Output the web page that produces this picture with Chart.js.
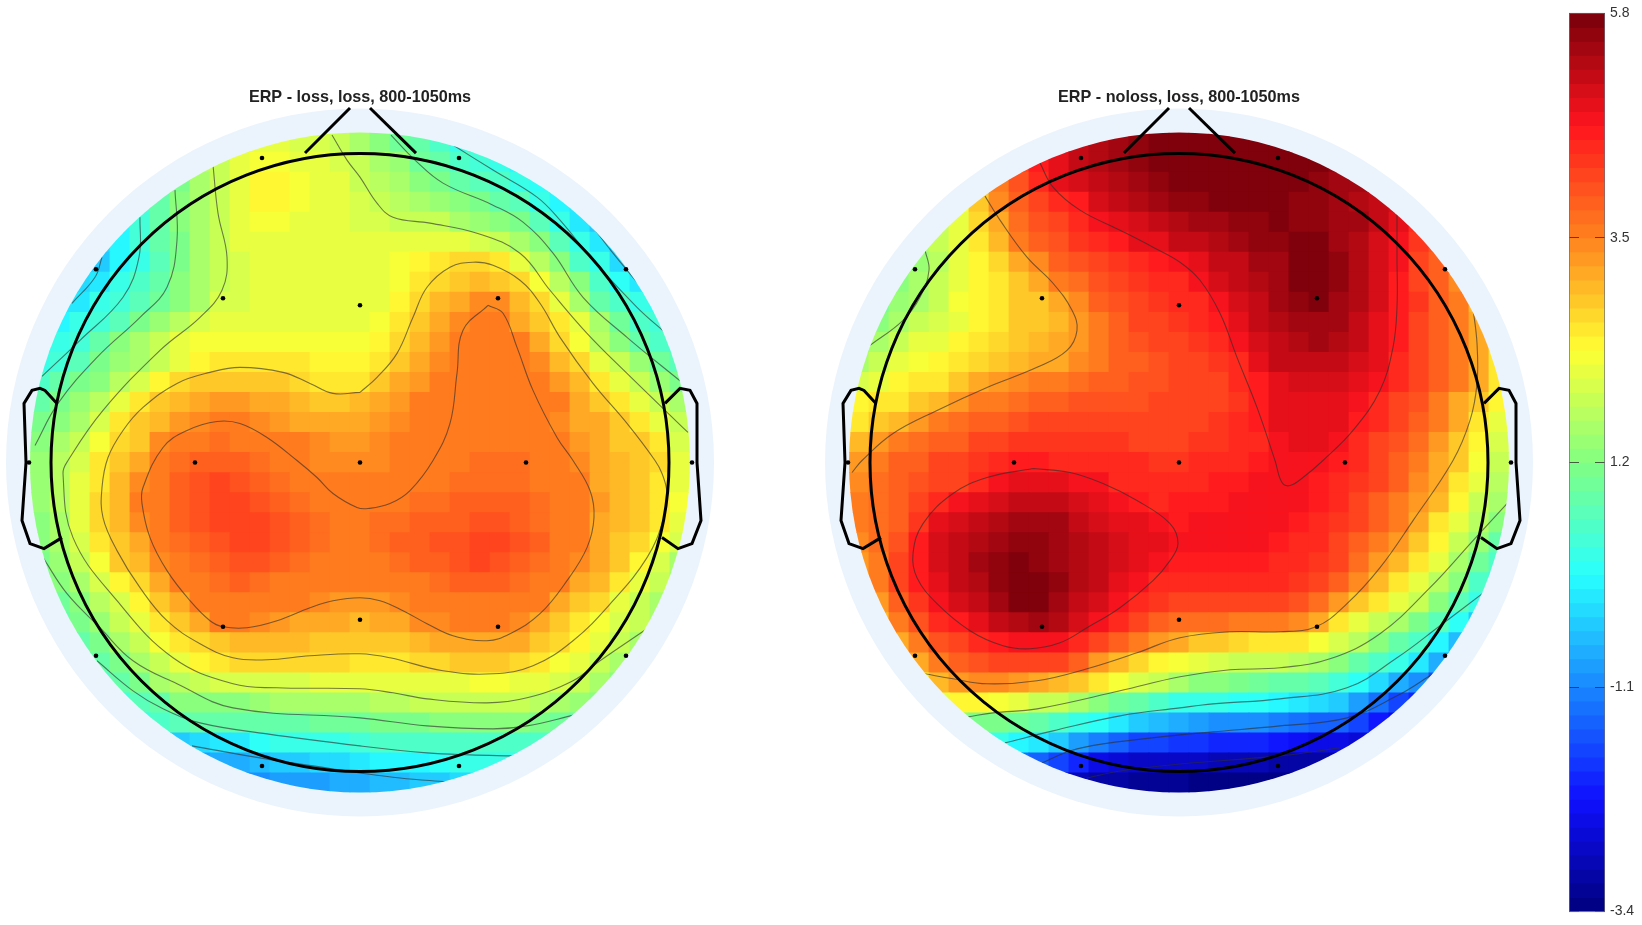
<!DOCTYPE html>
<html>
<head>
<meta charset="utf-8">
<title>ERP topographies</title>
<style>
  body { margin:0; background:#fff; }
  canvas { position:absolute; }
</style>
<script src="https://cdn.jsdelivr.net/npm/chart.js@4"></script>
</head>
<body>
<canvas id="lossChart" width="720" height="733" style="left:0;top:84px"></canvas>
<canvas id="nolossChart" width="720" height="733" style="left:819px;top:84px"></canvas>
<canvas id="barChart" width="73" height="925" style="left:1569px;top:0"></canvas>
<script>
// ================= DATA =================
// map values, front of the head first; each row is centred on the midline
const lossRows = [
[1.9,2.1,2.1,2.0,2.0,1.8,1.6,1.3,1.0,0.8,0.5,0.3,0.1],
[1.7,1.9,2.1,2.3,2.3,2.2,2.1,2.0,1.8,1.6,1.4,1.0,0.8,0.6,0.4,0.2,0.0],
[0.9,1.1,1.6,1.9,2.2,2.4,2.4,2.3,2.2,2.1,1.9,1.7,1.5,1.3,1.1,0.9,0.7,0.5,0.3,0.1,-0.1],
[0.5,0.9,1.2,1.6,1.9,2.2,2.4,2.4,2.3,2.2,2.1,2.0,1.9,1.7,1.5,1.4,1.2,1.1,0.9,0.7,0.3,0.0,-0.2],
[0.0,0.4,0.8,1.2,1.6,1.9,2.1,2.3,2.3,2.2,2.1,2.1,2.0,2.0,1.9,1.9,1.8,1.6,1.4,1.3,1.1,0.7,0.3,-0.2,-0.5],
[-0.3,0.0,0.4,0.8,1.1,1.5,1.9,2.1,2.2,2.2,2.1,2.1,2.1,2.1,2.1,2.1,2.1,2.1,2.1,2.0,1.8,1.6,1.2,0.7,0.3,-0.2,-0.4],
[-0.4,-0.4,0.0,0.3,0.7,1.1,1.5,1.8,2.0,2.2,2.2,2.2,2.1,2.1,2.1,2.2,2.3,2.4,2.5,2.7,2.7,2.5,2.1,1.7,1.2,0.6,0.2,-0.3,-0.4],
[-0.3,-0.2,0.2,0.5,0.9,1.2,1.5,1.8,2.0,2.1,2.2,2.1,2.1,2.1,2.1,2.2,2.3,2.5,2.7,2.9,3.0,2.9,2.7,2.3,1.7,1.3,0.6,0.1,-0.2],
[-0.1,-0.1,0.2,0.4,0.7,1.0,1.3,1.6,2.0,2.0,2.1,2.1,2.1,2.1,2.1,2.1,2.2,2.4,2.7,3.0,3.2,3.4,3.4,3.0,2.7,2.2,1.6,0.9,0.6,0.2,0.1],
[0.0,0.2,0.4,0.7,1.1,1.4,1.7,2.0,2.1,2.1,2.1,2.1,2.1,2.1,2.1,2.2,2.3,2.5,2.9,3.1,3.4,3.5,3.5,3.2,2.9,2.6,2.1,1.5,1.0,0.6,0.4],
[0.0,0.2,0.4,0.9,1.2,1.5,1.8,2.1,2.3,2.3,2.3,2.3,2.3,2.3,2.3,2.3,2.3,2.4,2.7,3.0,3.3,3.5,3.5,3.6,3.5,3.1,2.7,2.3,1.7,1.2,0.9,0.5,0.3],
[0.2,0.4,0.7,1.1,1.4,1.6,1.9,2.2,2.4,2.5,2.6,2.6,2.6,2.5,2.4,2.4,2.4,2.6,2.9,3.2,3.4,3.5,3.6,3.6,3.5,3.4,3.0,2.7,2.2,1.8,1.4,1.0,0.7],
[0.5,0.8,1.1,1.3,1.7,2.0,2.4,2.7,2.8,2.9,2.9,2.9,2.9,2.7,2.6,2.6,2.6,2.8,3.1,3.3,3.5,3.6,3.6,3.6,3.6,3.5,3.3,3.0,2.6,2.2,1.8,1.4,1.1],
[0.9,1.1,1.4,1.7,2.1,2.6,2.9,3.0,3.2,3.3,3.3,3.2,3.1,3.0,2.9,2.9,3.0,3.1,3.3,3.5,3.5,3.6,3.6,3.6,3.6,3.6,3.5,3.2,2.9,2.5,2.2,1.9,1.5],
[1.1,1.3,1.6,2.0,2.5,2.8,3.0,3.3,3.4,3.5,3.5,3.4,3.3,3.2,3.1,3.1,3.2,3.3,3.4,3.5,3.5,3.6,3.6,3.6,3.6,3.5,3.4,3.2,3.1,2.8,2.5,2.2,1.8],
[1.3,1.5,1.8,2.3,2.7,2.9,3.4,3.5,3.6,3.7,3.6,3.6,3.5,3.5,3.4,3.3,3.3,3.4,3.5,3.5,3.6,3.6,3.6,3.6,3.6,3.6,3.5,3.3,3.1,2.9,2.8,2.5,2.0],
[1.4,1.7,2.0,2.5,2.9,3.2,3.5,3.7,3.9,3.9,3.8,3.7,3.6,3.5,3.4,3.4,3.4,3.4,3.5,3.5,3.6,3.6,3.7,3.7,3.7,3.6,3.6,3.4,3.2,3.0,2.9,2.7,2.1],
[1.4,1.7,2.1,2.6,3.0,3.4,3.6,3.8,4.0,4.1,4.0,3.9,3.7,3.6,3.5,3.5,3.5,3.5,3.6,3.6,3.6,3.7,3.7,3.7,3.7,3.6,3.6,3.5,3.2,3.0,2.9,2.6,2.2],
[1.4,1.7,2.1,2.7,3.0,3.5,3.6,3.8,4.0,4.1,4.1,4.0,3.9,3.7,3.6,3.6,3.6,3.6,3.6,3.7,3.7,3.8,3.8,3.8,3.8,3.7,3.6,3.5,3.3,3.0,2.9,2.6,2.3],
[1.3,1.6,2.1,2.7,3.0,3.4,3.6,3.8,4.0,4.1,4.1,4.1,4.0,3.8,3.7,3.6,3.6,3.7,3.7,3.8,3.9,3.9,4.0,4.0,3.9,3.7,3.6,3.5,3.2,3.0,2.8,2.5,2.2],
[1.2,1.5,2.0,2.5,2.9,3.2,3.5,3.7,3.9,4.0,4.1,4.1,4.0,3.8,3.7,3.6,3.6,3.7,3.8,3.9,4.0,4.0,4.1,4.1,4.0,3.8,3.6,3.5,3.2,2.9,2.7,2.3,2.0],
[1.1,1.4,1.8,2.3,2.8,3.0,3.4,3.6,3.7,3.9,4.0,4.0,3.9,3.7,3.6,3.6,3.6,3.6,3.7,3.8,3.9,4.0,4.1,4.0,3.9,3.7,3.5,3.4,3.1,2.8,2.4,2.0,1.6],
[0.9,1.2,1.6,2.0,2.4,2.7,3.1,3.5,3.6,3.7,3.8,3.7,3.6,3.6,3.5,3.5,3.5,3.5,3.6,3.6,3.7,3.9,3.9,3.8,3.7,3.6,3.5,3.2,3.0,2.6,2.2,1.8,1.4],
[1.0,1.3,1.7,2.0,2.4,2.8,3.2,3.5,3.6,3.6,3.6,3.5,3.5,3.4,3.3,3.3,3.3,3.4,3.5,3.6,3.6,3.6,3.6,3.6,3.5,3.1,2.9,2.7,2.2,1.9,1.5],
[0.8,1.1,1.4,1.8,2.2,2.5,2.9,3.2,3.5,3.5,3.4,3.3,3.2,3.1,3.1,3.0,3.1,3.2,3.4,3.4,3.5,3.5,3.5,3.4,3.2,2.9,2.6,2.3,2.0,1.9,1.5],
[0.8,1.1,1.5,1.9,2.3,2.5,2.7,2.9,3.0,3.0,3.0,3.0,2.9,2.9,2.9,2.9,2.9,3.0,3.1,3.1,3.2,3.2,3.1,2.9,2.7,2.4,2.2,1.8,1.5],
[0.5,0.8,1.1,1.5,1.8,2.1,2.4,2.6,2.7,2.7,2.7,2.7,2.7,2.7,2.6,2.6,2.6,2.7,2.7,2.8,2.8,2.8,2.7,2.6,2.3,2.2,1.9,1.6,1.4],
[0.5,0.8,1.1,1.5,1.7,1.9,2.0,2.0,2.0,2.0,2.0,2.1,2.1,2.1,2.1,2.1,2.1,2.2,2.2,2.3,2.3,2.2,2.1,2.0,1.8,1.5,1.3],
[0.4,0.7,0.9,1.2,1.2,1.3,1.3,1.4,1.5,1.5,1.5,1.6,1.6,1.7,1.7,1.8,1.8,1.9,1.9,1.9,1.8,1.7,1.6,1.4,1.2],
[0.3,0.5,0.7,0.8,0.8,0.9,0.9,0.9,0.9,1.0,1.0,1.0,1.1,1.1,1.1,1.2,1.2,1.3,1.3,1.2,1.1,1.0,0.9],
[-0.4,-0.4,-0.3,-0.2,-0.1,0.1,0.2,0.2,0.3,0.3,0.4,0.5,0.5,0.6,0.6,0.6,0.6,0.6,0.6,0.6,0.6],
[-0.9,-0.8,-0.7,-0.6,-0.4,-0.4,-0.3,-0.3,-0.1,0.0,0.0,0.0,0.1,0.2,0.2,0.3,0.3],
[-1.1,-1.0,-0.9,-0.9,-0.9,-0.8,-0.7,-0.6,-0.6,-0.5,-0.5,-0.3,-0.2]
];

const nolossRows = [
[4.9,5.1,5.3,5.5,5.6,5.7,5.7,5.8,5.8,5.8,5.8,5.8,5.8],
[4.2,4.6,4.9,5.1,5.3,5.5,5.6,5.7,5.7,5.8,5.8,5.8,5.8,5.8,5.8,5.7,5.6],
[3.0,3.5,4.0,4.4,4.8,5.0,5.1,5.3,5.5,5.6,5.7,5.7,5.8,5.8,5.8,5.7,5.7,5.6,5.5,5.4,5.3],
[2.3,2.8,3.4,3.9,4.2,4.5,4.6,5.0,5.1,5.3,5.4,5.6,5.6,5.7,5.7,5.7,5.7,5.6,5.6,5.5,5.3,5.2,5.0],
[1.8,2.2,2.7,3.2,3.7,4.0,4.2,4.5,4.7,4.9,5.0,5.2,5.3,5.4,5.5,5.6,5.6,5.7,5.6,5.6,5.5,5.4,5.2,4.8,4.5],
[1.5,1.8,2.1,2.6,3.0,3.5,3.8,4.0,4.3,4.4,4.6,4.8,4.9,5.1,5.2,5.3,5.4,5.6,5.6,5.7,5.7,5.5,5.3,5.0,4.7,4.3,4.0],
[1.2,1.4,1.7,2.1,2.4,2.7,3.1,3.4,3.8,4.0,4.2,4.3,4.5,4.6,4.7,4.9,5.1,5.2,5.4,5.5,5.7,5.8,5.6,5.3,5.0,4.7,4.2,3.9,3.5],
[1.3,1.5,1.8,2.2,2.4,2.6,2.9,3.2,3.5,3.7,4.0,4.2,4.3,4.4,4.5,4.7,5.0,5.1,5.3,5.5,5.7,5.8,5.6,5.3,5.0,4.6,4.2,3.9,3.4],
[1.0,1.4,1.6,1.9,2.3,2.4,2.6,2.8,2.9,3.2,3.4,3.8,4.0,4.2,4.3,4.4,4.5,4.7,5.0,5.2,5.4,5.6,5.7,5.5,5.3,5.0,4.6,4.3,3.9,3.5,3.0],
[1.2,1.6,1.9,2.0,2.2,2.4,2.6,2.8,2.9,3.0,3.3,3.6,3.9,4.1,4.2,4.3,4.4,4.6,4.9,5.1,5.3,5.5,5.5,5.4,5.2,4.9,4.6,4.2,3.9,3.5,3.2],
[1.3,1.6,1.9,2.1,2.2,2.4,2.6,2.7,2.9,3.0,3.1,3.3,3.6,3.8,4.0,4.1,4.2,4.3,4.4,4.7,5.0,5.2,5.3,5.4,5.3,5.1,4.9,4.6,4.2,3.9,3.6,3.2,2.6],
[1.6,1.9,2.2,2.3,2.4,2.6,2.7,2.9,3.0,3.1,3.2,3.4,3.6,3.8,3.9,4.0,4.1,4.2,4.3,4.5,4.8,5.1,5.2,5.2,5.2,5.0,4.8,4.5,4.2,3.9,3.6,3.1,2.5],
[2.0,2.1,2.4,2.5,2.6,2.8,3.1,3.3,3.4,3.5,3.6,3.7,3.8,3.9,4.0,4.0,4.1,4.1,4.2,4.4,4.6,4.8,5.0,5.0,5.0,4.9,4.7,4.4,4.1,3.8,3.5,3.1,2.5],
[2.4,2.5,2.6,2.8,3.0,3.3,3.5,3.6,3.7,3.8,3.9,4.0,4.0,4.0,4.0,4.1,4.1,4.1,4.2,4.3,4.6,4.8,4.9,4.9,4.8,4.7,4.5,4.2,4.0,3.6,3.2,2.8,2.4],
[2.6,2.8,3.0,3.3,3.5,3.7,3.8,3.9,4.0,4.1,4.2,4.2,4.2,4.2,4.1,4.1,4.2,4.2,4.3,4.4,4.6,4.8,4.8,4.8,4.8,4.6,4.4,4.1,3.8,3.5,3.1,2.6,2.2],
[3.0,3.3,3.5,3.7,3.8,3.9,4.1,4.2,4.3,4.3,4.3,4.3,4.3,4.3,4.2,4.2,4.2,4.3,4.3,4.4,4.5,4.7,4.8,4.8,4.7,4.5,4.2,4.0,3.7,3.3,2.9,2.4,2.0],
[3.3,3.6,3.8,3.9,4.1,4.2,4.3,4.4,4.6,4.6,4.5,4.5,4.4,4.4,4.4,4.3,4.3,4.4,4.4,4.5,4.6,4.7,4.7,4.7,4.6,4.4,4.2,3.9,3.6,3.2,2.8,2.3,1.9],
[3.4,3.7,3.9,4.0,4.1,4.2,4.4,4.7,4.8,4.9,4.8,4.7,4.7,4.5,4.4,4.4,4.4,4.5,4.6,4.6,4.7,4.7,4.7,4.6,4.5,4.3,4.1,3.8,3.4,3.1,2.6,2.1,1.7],
[3.5,3.7,3.9,4.1,4.4,4.7,4.9,5.0,5.1,5.1,5.1,5.0,4.9,4.7,4.6,4.5,4.6,4.6,4.6,4.7,4.7,4.7,4.7,4.6,4.5,4.2,3.9,3.6,3.3,3.0,2.4,1.9,1.5],
[3.5,3.7,3.9,4.3,4.8,5.0,5.2,5.3,5.5,5.5,5.4,5.2,5.0,4.9,4.8,4.7,4.6,4.7,4.7,4.7,4.7,4.7,4.6,4.5,4.3,4.1,3.8,3.5,3.1,2.6,2.2,1.7,1.3],
[3.4,3.7,4.0,4.6,5.0,5.1,5.3,5.5,5.6,5.6,5.5,5.3,5.1,5.0,4.9,4.8,4.7,4.7,4.7,4.7,4.7,4.6,4.5,4.4,4.2,3.9,3.6,3.3,2.9,2.4,1.9,1.4,0.9],
[3.3,3.6,4.1,4.6,5.0,5.2,5.4,5.6,5.7,5.6,5.5,5.3,5.1,5.0,4.9,4.7,4.6,4.6,4.6,4.6,4.6,4.5,4.4,4.3,4.1,3.7,3.3,3.0,2.6,2.1,1.6,1.0,0.6],
[3.1,3.5,4.1,4.6,4.9,5.1,5.3,5.6,5.8,5.7,5.6,5.3,5.1,4.9,4.7,4.5,4.5,4.5,4.5,4.5,4.5,4.4,4.3,4.1,3.8,3.4,3.0,2.6,2.2,1.7,1.2,0.6,0.2],
[3.3,3.9,4.3,4.7,5.0,5.2,5.4,5.7,5.7,5.5,5.2,5.0,4.7,4.5,4.3,4.2,4.2,4.2,4.2,4.2,4.1,4.0,3.7,3.3,2.8,2.5,2.1,1.8,1.2,0.7,0.2],
[3.0,3.6,4.0,4.4,4.6,4.9,5.1,5.3,5.4,5.3,5.0,4.7,4.4,4.2,3.9,3.7,3.7,3.7,3.6,3.6,3.5,3.4,3.1,2.6,2.2,1.9,1.5,1.1,0.7,0.1,-0.5],
[3.1,3.6,4.0,4.2,4.4,4.6,4.7,4.7,4.7,4.4,4.2,3.9,3.5,3.3,3.1,2.9,2.8,2.7,2.6,2.6,2.5,2.3,2.0,1.7,1.2,0.8,0.5,0.0,-0.6],
[2.5,3.1,3.6,3.9,4.0,4.2,4.2,4.2,4.1,3.9,3.3,3.0,2.7,2.4,2.3,2.1,2.0,1.9,1.8,1.8,1.7,1.5,1.3,0.9,0.6,0.3,-0.2,-0.7,-1.2],
[2.4,3.0,3.3,3.4,3.4,3.3,3.2,3.0,2.8,2.6,2.3,2.0,1.8,1.5,1.3,1.2,1.1,1.0,0.9,0.8,0.7,0.4,0.1,-0.3,-0.8,-1.1,-1.6],
[2.1,2.4,2.4,2.3,2.1,1.9,1.8,1.5,1.2,1.0,0.8,0.5,0.3,0.2,0.2,0.1,0.1,0.0,-0.2,-0.3,-0.5,-0.9,-1.3,-1.7,-2.0],
[1.3,1.1,1.1,1.0,0.8,0.6,0.3,0.1,-0.2,-0.4,-0.6,-0.8,-0.9,-1.0,-1.1,-1.1,-1.2,-1.3,-1.4,-1.5,-1.8,-2.2,-2.4],
[0.4,0.3,0.0,-0.2,-0.5,-0.9,-1.2,-1.5,-1.7,-1.8,-1.9,-1.9,-2.0,-2.0,-2.1,-2.2,-2.3,-2.4,-2.5,-2.6,-2.7],
[-1.3,-1.4,-1.8,-2.1,-2.4,-2.6,-2.7,-2.8,-2.8,-2.8,-2.9,-2.9,-2.9,-3.0,-3.0,-3.0,-3.1],
[-2.8,-2.9,-3.0,-3.1,-3.2,-3.2,-3.2,-3.3,-3.3,-3.3,-3.3,-3.3,-3.3]
];

// contour lines, in head units (centre of the head is 0,0)
const lossContours = [
[[128,-157],[103,-132],[97,-89],[90,-39],[73,-2],[50,28],[30,41],[8,46],[-3,45],[-27,31],[-43,15],[-63,-2],[-93,-25],[-120,-39],[-143,-41],[-173,-32],[-197,-15],[-217,25],[-218,41],[-210,75],[-193,108],[-170,138],[-150,158],[-137,164],[-113,165],[-83,158],[-50,145],[-27,138],[0,135],[20,138],[43,148],[67,161],[93,173],[127,178],[150,171],[180,151],[207,118],[227,85],[234,55],[230,28],[213,-2],[197,-25],[173,-72],[157,-115],[143,-149],[128,-157]],
[[0,-70],[-27,-69],[-50,-79],[-77,-90],[-120,-95],[-150,-90],[-183,-79],[-217,-55],[-237,-32],[-252,-5],[-258,25],[-257,55],[-243,88],[-220,125],[-193,158],[-160,181],[-127,195],[-93,197],[-50,193],[0,191],[30,195],[83,208],[133,211],[173,203],[213,178],[253,138],[287,95],[303,58],[307,31],[302,11],[295,-2],[267,-39],[233,-79],[200,-125],[180,-159],[160,-182],[133,-197],[113,-200],[90,-195],[67,-175],[53,-145],[37,-109],[17,-85],[0,-70]],
[[-147,-297],[-142,-249],[-133,-205],[-138,-172],[-160,-145],[-200,-112],[-257,-52],[-292,-2],[-297,11],[-287,75],[-243,138],[-187,195],[-127,221],[-83,225],[0,226],[33,230],[67,236],[127,240],[167,235],[213,218],[240,198],[287,166]],
[[-28,-327],[-13,-302],[0,-285],[17,-259],[33,-245],[70,-239],[117,-229],[160,-209],[190,-172],[227,-129],[267,-89],[328,-30]],
[[-185,-272],[-183,-222],[-193,-175],[-220,-145],[-263,-105],[-302,-59],[-325,-17]],
[[31,-327],[55,-302],[83,-279],[133,-257],[163,-240],[193,-209],[223,-165],[267,-125],[322,-80]],
[[-317,95],[-293,131],[-260,165],[-227,198],[-183,221],[-127,245],[0,255],[67,263],[133,266],[167,263],[215,252]],
[[-220,-245],[-221,-205],[-237,-165],[-280,-122],[-318,-86]],
[[93,-317],[133,-292],[177,-265],[200,-242],[233,-202],[277,-155],[306,-129]],
[[-263,198],[-227,228],[-197,246],[-160,260],[-93,271],[0,283],[67,290],[110,292],[153,293]],
[[-258,-205],[-265,-185],[-288,-159]],
[[233,-235],[253,-209],[277,-180]],
[[-168,283],[-100,295],[-27,306],[0,310],[40,315],[87,319]]
];

const nolossContours = [
[[-139,-299],[-126,-275],[-99,-252],[-59,-232],[-26,-215],[1,-200],[21,-182],[41,-149],[58,-105],[78,-55],[96,-2],[103,20],[111,23],[124,15],[144,-2],[174,-32],[201,-72],[214,-115],[218,-155],[218,-205],[218,-249]],
[[-146,6],[-192,15],[-226,31],[-256,61],[-266,91],[-262,115],[-242,141],[-209,168],[-176,183],[-149,186],[-119,180],[-92,165],[-59,145],[-26,118],[-9,98],[-1,81],[-9,61],[-42,38],[-76,21],[-109,10],[-146,6]],
[[-194,-266],[-179,-242],[-152,-205],[-126,-179],[-107,-152],[-102,-132],[-112,-112],[-142,-95],[-192,-75],[-242,-52],[-286,-29],[-317,-2],[-327,10]],
[[-254,-212],[-250,-192],[-259,-165],[-276,-142],[-309,-117]],
[[294,-154],[298,-119],[298,-79],[291,-42],[274,-2],[234,58],[201,105],[168,141],[137,164],[101,169],[51,169],[1,175],[-42,190],[-92,206],[-142,218],[-192,221],[-226,216],[-254,211]],
[[328,41],[294,78],[251,125],[201,171],[151,196],[101,205],[51,207],[1,214],[-59,228],[-142,246],[-186,250],[-211,254]],
[[306,129],[261,163],[218,195],[168,225],[101,236],[34,241],[1,245],[-59,253],[-126,268],[-174,280]],
[[254,211],[218,233],[168,255],[101,263],[34,269],[1,272],[-76,281],[-109,288],[-137,300]],
[[161,285],[101,293],[1,301],[-59,308],[-92,315]]
];

// head drawing, same units
const electrodes = [[-98,-304],[99,-304],[-264,-193],[266,-193],[-137,-164],[138,-164],[0,-157],[-331,0],[-165,0],[0,0],[166,0],[332,0],[-137,164],[138,164],[0,157],[-264,193],[266,193],[-98,303],[99,303]];
const noseLeft = [[-55,-309],[-10,-354]];
const noseRight = [[10,-354],[56,-309]];
const earLeft = [[-303,-59],[-315,-72],[-320,-74],[-328,-72],[-336,-59],[-334,0],[-338,58],[-330,81],[-316,86],[-298,75]];
const earRight = [[305,-59],[320,-74],[330,-72],[337,-59],[337,0],[341,58],[332,81],[318,86],[302,75]];

const titles = ["ERP - loss, loss, 800-1050ms", "ERP - noloss, loss, 800-1050ms"];
const colorbarTicks = [-3.4, -1.1, 1.2, 3.5, 5.8];

// ================= COLOURS =================
const valueMin = -3.4, valueMax = 5.8, colorLevels = 64;
const jetStops = [[0,0,125],[15,15,255],[25,135,255],[40,255,255],[130,255,130],[255,255,50],[255,130,30],[255,20,30],[120,0,10]];

function levelColor(i){
    const t = (i + 0.5) / colorLevels * (jetStops.length - 1);
    const k = Math.min(Math.floor(t), jetStops.length - 2);
    const f = t - k;
    const c = jetStops[k].map((v, n) => Math.round(v + (jetStops[k + 1][n] - v) * f));
    return `rgb(${c[0]},${c[1]},${c[2]})`;
}

function valueColor(v){
    const i = Math.floor((v - valueMin) / (valueMax - valueMin) * colorLevels);
    return levelColor(Math.max(0, Math.min(colorLevels - 1, i)));
}

// ================= HEAD MAPS =================
const cellSize = 20, mapRadius = 330;
const toPoints = pairs => pairs.map(p => ({x:p[0], y:p[1]}));

// keeps the map cells and contours inside the round map
const clipToMap = {
    id:"clipToMap",
    beforeDatasetDraw(chart, args){
        if(!args.meta._dataset.inMap) return;
        const {x, y} = chart.scales;
        chart.ctx.save();
        chart.ctx.beginPath();
        chart.ctx.arc(x.getPixelForValue(0), y.getPixelForValue(0), mapRadius, 0, Math.PI * 2);
        chart.ctx.clip();
    },
    afterDatasetDraw(chart, args){
        if(args.meta._dataset.inMap) chart.ctx.restore();
    }
};

function headChart(id, title, rows, contours){
    const cells = [];
    rows.forEach((row, r) => {
        row.forEach((v, c) => {
            cells.push({
                x:(c - (row.length - 1) / 2) * cellSize,
                y:(r - (rows.length - 1) / 2) * cellSize,
                v:v
            });
        });
    });

    const outline = pairs => ({
        data:toPoints(pairs), showLine:true, borderColor:"#000", borderWidth:3,
        pointRadius:0, order:1, clip:false
    });

    new Chart(document.getElementById(id), {
        type:"scatter",
        data:{
            datasets:[
                { data:toPoints(electrodes), pointRadius:2.3, pointBackgroundColor:"#000", pointBorderWidth:0, order:0 },
                outline(noseLeft), outline(noseRight), outline(earLeft), outline(earRight),
                { data:[{x:0,y:0}], pointRadius:309, pointBackgroundColor:"rgba(0,0,0,0)",
                  pointBorderColor:"#000", pointBorderWidth:3, order:1, clip:false },
                ...contours.map(c => ({
                    data:toPoints(c), showLine:true, tension:0.4, borderColor:"rgba(45,45,45,0.62)",
                    borderWidth:1.1, pointRadius:0, order:2, inMap:true
                })),
                // cells overlap a little so no seams show between them
                { data:cells, pointStyle:"rect", pointRadius:(cellSize + 0.8) * Math.SQRT1_2, pointBorderWidth:0,
                  pointBackgroundColor:cells.map(c => valueColor(c.v)), order:3, inMap:true, clip:false },
                { data:[{x:0,y:0}], pointRadius:354, pointBackgroundColor:"#ebf4fc", pointBorderWidth:0, order:4, clip:false }
            ]
        },
        options:{
            responsive:false,
            animation:false,
            events:[],
            layout:{ autoPadding:false },
            scales:{
                x:{ display:false, min:-360, max:360 },
                y:{ display:false, min:-354, max:354, reverse:true }
            },
            plugins:{
                legend:{ display:false },
                tooltip:{ enabled:false },
                title:{
                    display:true, text:title, color:"#222", padding:{top:4,bottom:0.56},
                    font:{ family:"'Liberation Sans'", size:16.2, weight:"bold", lineHeight:1.2 }
                }
            }
        },
        plugins:[clipToMap]
    });
}

headChart("lossChart", titles[0], lossRows, lossContours);
headChart("nolossChart", titles[1], nolossRows, nolossContours);

// ================= COLOUR BAR =================
const bands = [];
for(let i = colorLevels - 1; i >= 0; i--){
    bands.push({
        data:[[valueMin + (valueMax - valueMin) * i / colorLevels, valueMax]],
        backgroundColor:levelColor(i)
    });
}

new Chart(document.getElementById("barChart"), {
    type:"bar",
    data:{ labels:["map"], datasets:bands },
    options:{
        responsive:false,
        animation:false,
        events:[],
        grouped:false,
        barPercentage:1,
        categoryPercentage:1,
        layout:{ autoPadding:false, padding:{top:12,bottom:13} },
        scales:{
            x:{ display:false },
            y:{
                position:"right", min:valueMin, max:valueMax,
                afterBuildTicks:scale => { scale.ticks = colorbarTicks.map(v => ({value:v})); },
                afterFit:scale => { scale.width = 37; },
                ticks:{
                    color:"#333", padding:5, font:{ family:"'Liberation Sans'", size:14 },
                    callback:v => v.toFixed(1)
                },
                grid:{ z:1, color:"rgba(40,40,40,0.75)", drawTicks:false },
                border:{ display:false, dash:[10,16,10] }
            }
        },
        plugins:{ legend:{display:false}, tooltip:{enabled:false} }
    },
    plugins:[{
        id:"barFrame",
        afterDraw(chart){
            const a = chart.chartArea;
            chart.ctx.save();
            chart.ctx.strokeStyle = "rgba(110,110,120,0.7)";
            chart.ctx.strokeRect(a.left + 0.5, a.top, a.width - 1, a.height);
            chart.ctx.restore();
        }
    }]
});
</script>
</body>
</html>
